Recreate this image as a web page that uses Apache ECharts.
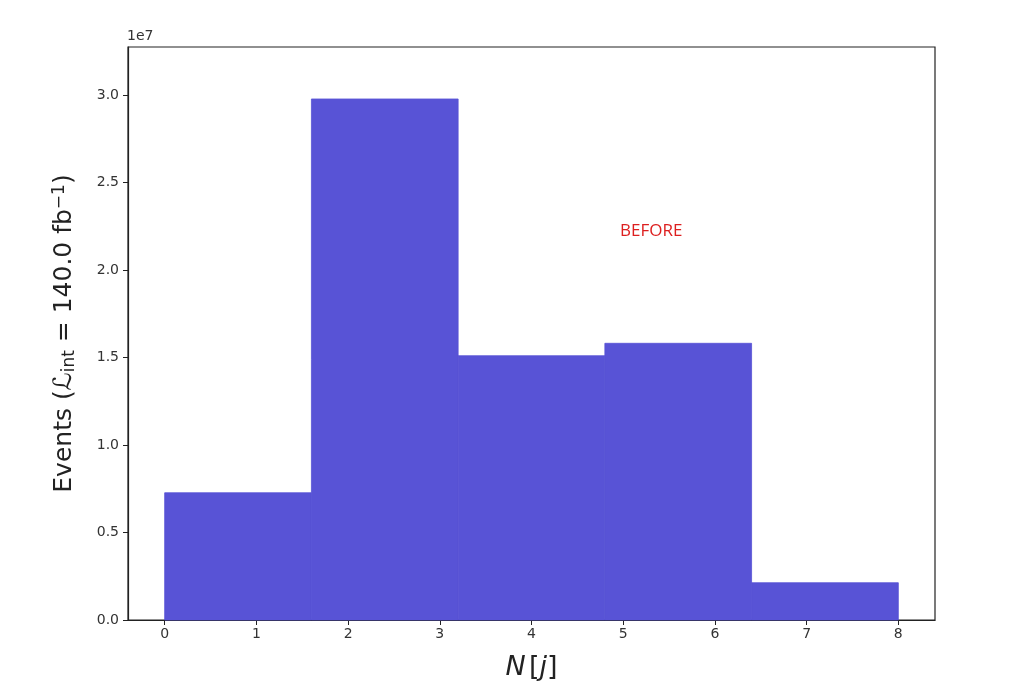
<!DOCTYPE html>
<html>
<head>
<meta charset="utf-8">
<script src="https://cdn.jsdelivr.net/npm/echarts@6/dist/echarts.min.js"></script>
<style>html,body{margin:0;padding:0;background:#fff;}#c{width:1018px;height:700px;}</style>
</head>
<body>
<div id="c"></div>
<script>
const binEdges = [0, 1.6, 3.2, 4.8, 6.4, 8];
const counts = [7270000, 29770000, 15100000, 15810000, 2130000];
const xTicks = [0, 1, 2, 3, 4, 5, 6, 7, 8];
const yTicks = [0, 5000000, 10000000, 15000000, 20000000, 25000000, 30000000];
const barColor = '#5853d6';

const histData = counts.map((c, i) => [binEdges[i], binEdges[i + 1], c]);

const chart = echarts.init(document.getElementById('c'));
const font = 'DejaVu Sans';
chart.setOption({
  animation: false,
  backgroundColor: '#fff',
  grid: { left: 128, right: 83, top: 47, bottom: 80, show: true, borderColor: '#222', borderWidth: 1.2, backgroundColor: 'transparent' },
  xAxis: {
    type: 'value', min: -0.4, max: 8.4,
    splitLine: { show: false },
    axisLine: { show: true, onZero: false, lineStyle: { color: '#222', width: 1.2 } },
    axisTick: { show: true, length: 5, customValues: xTicks, lineStyle: { color: '#222' } },
    axisLabel: { customValues: xTicks, color: '#333', fontFamily: font, fontSize: 14, margin: 7 },
    name: '{i|N} {a|[}{i|j}{a|]}',
    nameLocation: 'middle', nameGap: 34,
    nameTextStyle: { rich: {
      i: { fontFamily: font, fontStyle: 'italic', fontSize: 27, color: '#222' },
      a: { fontFamily: font, fontSize: 27, color: '#222' } } }
  },
  yAxis: {
    type: 'value', min: 0, max: 32740000,
    splitLine: { show: false },
    axisLine: { show: true, onZero: false, lineStyle: { color: '#222', width: 1.2 } },
    axisTick: { show: true, length: 5, customValues: yTicks, lineStyle: { color: '#222' } },
    axisLabel: { customValues: yTicks, color: '#333', fontFamily: font, fontSize: 14, margin: 9,
      formatter: v => (v / 1e7).toFixed(1) },
    name: '{a|Events (}{i|ℒ}{s|int}{a| = 140.0 fb}{p|−1}{a|)}',
    nameLocation: 'middle', nameRotate: 90, nameGap: 50,
    nameTextStyle: { rich: {
      a: { fontFamily: font, fontSize: 25, color: '#222', verticalAlign: 'middle' },
      i: { fontFamily: font, fontStyle: 'italic', fontSize: 25, color: '#222', verticalAlign: 'middle' },
      s: { fontFamily: font, fontSize: 17, color: '#222', verticalAlign: 'bottom', padding: [10, 0, 0, 0] },
      p: { fontFamily: font, fontSize: 17, color: '#222', verticalAlign: 'top', padding: [0, 0, 10, 0] } } }
  },
  graphic: [
    { type: 'text', left: 127, top: 29, style: { text: '1e7', fontFamily: font, fontSize: 14, fill: '#333' } },
    { type: 'text', left: 620, top: 223, style: { text: 'BEFORE', fontFamily: 'Open Sans', fontSize: 17, fill: '#dd1f1f' } }
  ],
  series: [{
    type: 'custom',
    data: histData,
    encode: { x: [0, 1], y: 2 },
    renderItem: function (params, api) {
      const p0 = api.coord([api.value(0), api.value(2)]);
      const p1 = api.coord([api.value(1), 0]);
      return { type: 'rect', shape: { x: p0[0], y: p0[1], width: p1[0] - p0[0], height: p1[1] - p0[1] },
        style: { fill: barColor, stroke: barColor, lineWidth: 0.8 } };
    }
  }]
});
</script>
</body>
</html>
